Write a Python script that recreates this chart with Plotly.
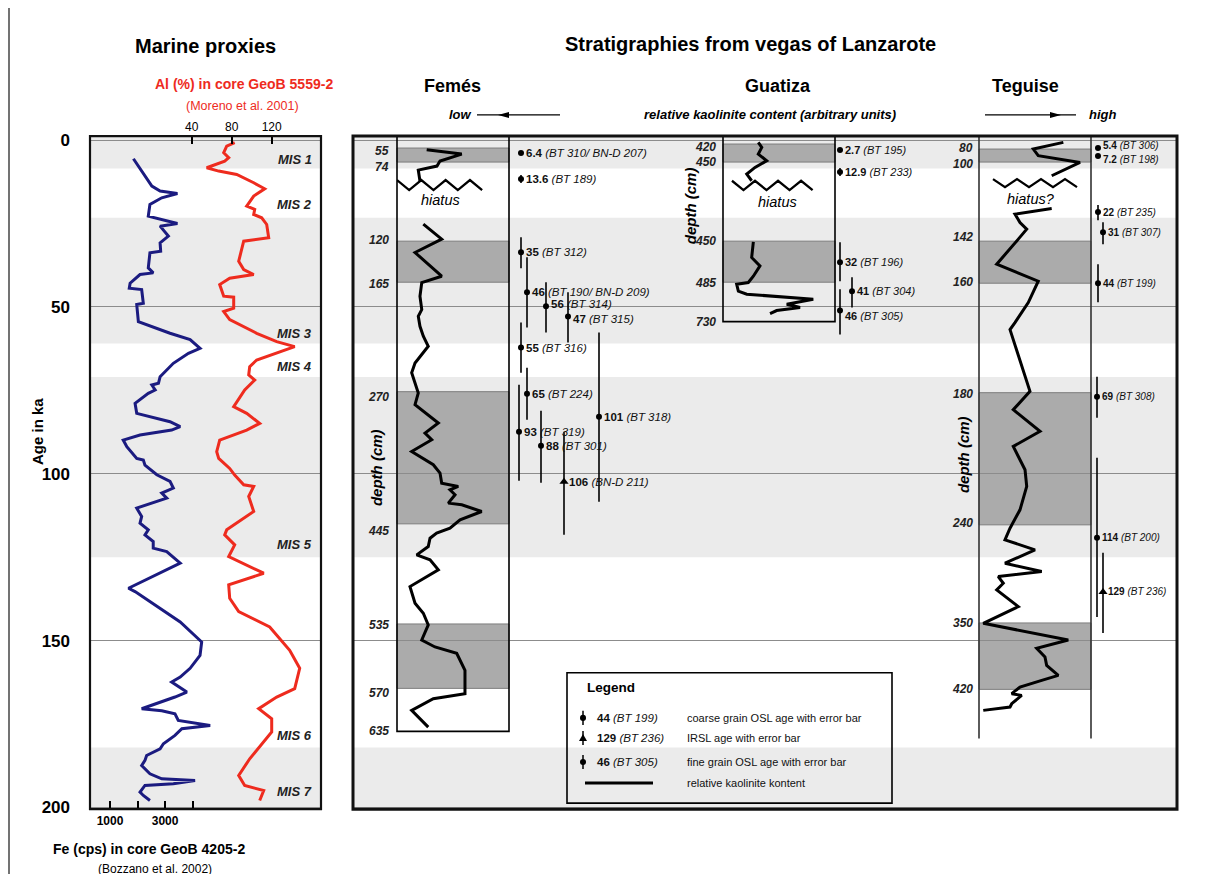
import plotly.graph_objects as go

# The page adds an 8 px body margin; the photographed page is also slightly squeezed
# vertically, so reference pixel positions are mapped through px()/py() below.
W, H = 1202, 874
MARGIN = 8
Y_OFF, Y_SCALE = 6.5, 0.982
FONT = "Liberation Sans, Arial, sans-serif"

# ---------------- data: marine proxies ----------------
fe_age = [5.6, 13.8, 15.3, 16.0, 17.3, 19.3, 22.8, 25.0, 25.8, 28.8, 30.8, 33.3, 33.8, 38.3, 39.8,
          40.3, 42.9, 44.4, 44.8, 48.9, 49.3, 54.4, 57.9, 59.8, 62.4, 63.9, 66.9, 70.9, 72.9, 73.4,
          74.9, 75.9, 78.9, 81.9, 84.4, 85.9, 86.9, 88.4, 89.9, 91.9, 95.4, 95.9, 97.4, 100.3, 102.3,
          104.3, 105.8, 107.3, 110.3, 112.8, 114.8, 116.8, 118.3, 120.3, 122.3, 123.3, 126.8, 127.8,
          134.3, 135.3, 139.8, 144.4, 150.4, 154.4, 158.3, 160.9, 162.4, 165.4, 166.9, 170.4, 171.0,
          171.9, 173.9, 175.4, 176.4, 178.4, 180.9, 182.4, 184.4, 185.9, 187.4, 189.9, 191.4, 191.9,
          192.9, 193.4, 195.4, 196.4, 197.9]
fe_cps = [1850, 2520, 2820, 3450, 2880, 2450, 2390, 3450, 2820, 3120, 2820, 2840, 2450, 2390, 2570,
          2090, 1730, 1700, 2150, 2210, 1970, 2030, 3180, 3910, 4270, 3850, 3300, 2820, 2760, 2520,
          2640, 2390, 1910, 1970, 3180, 3550, 3240, 2090, 1480, 1610, 1970, 2210, 2270, 2700, 3180,
          3300, 2880, 3060, 1970, 2150, 2090, 2390, 2270, 2570, 2570, 3060, 3550, 3300,
          1670, 1910, 2700, 3550, 4330, 4270, 3910, 3550, 3240, 3790, 3360, 2150, 2880,
          3360, 3480, 4640, 3610, 3360, 2940, 2820, 2330, 2270, 2150, 2450, 2880, 4090,
          3300, 2270, 2090, 2210, 2450]

al_age = [0.8, 1.8, 3.8, 5.3, 6.3, 8.3, 9.3, 10.3, 12.8, 14.6, 16.8, 19.8, 20.8, 22.3, 23.3, 25.3,
          29.3, 30.3, 36.3, 38.8, 40.3, 41.4, 43.3, 46.8, 47.1, 50.4, 51.4, 53.8, 57.9, 60.4, 61.9,
          63.9, 65.9, 67.9, 70.4, 71.9, 74.9, 79.9, 81.9, 84.9, 86.9, 89.9, 93.4, 95.4, 98.4, 100.4,
          103.3, 103.8, 106.8, 111.3, 116.8, 118.3, 121.3, 124.8, 127.8, 129.8, 133.3, 137.3, 141.3,
          145.9, 152.9, 158.3, 164.4, 166.9, 170.4, 173.4, 177.4, 181.9, 185.4, 190.4, 193.4, 194.9,
          197.9]
al_pct = [83, 75, 72, 77, 73, 55, 67, 85, 102, 113, 102, 95, 103, 102, 110, 115,
          117, 92, 87, 92, 102, 78, 68, 72, 82, 82, 72, 78, 105, 125, 143,
          125, 105, 98, 97, 103, 93, 82, 95, 108, 95, 68, 65, 67, 78, 83,
          92, 102, 97, 102, 75, 73, 83, 77, 98, 112, 77, 78, 87,
          118, 138, 148, 143, 125, 107, 120, 120, 108, 98, 87, 93, 112,
          108]

fe_ticks = [1000, 2000, 3000, 4000]
fe_ticklabels = ["1000", "", "3000", ""]
al_ticks = [40, 80, 120]
age_ticks = [0, 50, 100, 150, 200]

mis_band_start = [0, 23.3, 71, 182]
mis_band_end = [8.5, 61, 125, 200]
mis_names = ["MIS 1", "MIS 2", "MIS 3", "MIS 4", "MIS 5", "MIS 6", "MIS 7"]
mis_name_age = [5.7, 19.3, 57.9, 67.9, 121.3, 178.4, 195.1]

# ---------------- data: Femés ----------------
femes_age = [2.9, 4.2, 6.3, 7.8, 9.0, 12.3, None,
             25.2, 29.7, 33.7, 40.8, 42.7, 46.8, 50.8, 52.8, 55.8, 58.8, 61.8, 66.8, 69.7, 75.8,
             79.3, 84.8, 87.8, 89.8, 93.3, 97.3, 99.8, 102.8, 103.8, 104.8, 106.3, 108.8, 109.3,
             111.3, 113.8, 116.3, 117.8, 119.3, 121.8, 124.3, 125.8, 128.8, 133.8, 138.8, 141.8,
             145.3, 149.8, 151.9, 153.8, 158.9, 165.9, 167.4, 170.9, 175.9]
femes_kaol = [2.65, 5.78, 3.84, 3.57, 1.90, 2.05, None,
              2.35, 3.99, 1.61, 3.99, 2.21, 2.05, 2.21, 1.90, 2.05, 2.35, 2.79, 1.61, 1.31, 1.90,
              1.61, 3.69, 2.50, 3.10, 1.31, 3.24, 3.84, 3.99, 5.47, 4.73, 5.18, 4.58, 5.78,
              7.56, 5.63, 4.73, 3.54, 2.95, 2.79, 1.76, 2.95, 3.69, 1.16, 1.61, 2.35,
              2.79, 2.21, 3.39, 5.33, 6.07, 6.07, 3.24, 1.31, 2.79]
femes_dark_top = [2.4, 30.3, 75.4, 145.0]
femes_dark_bot = [6.6, 42.6, 115.0, 164.3]
femes_depth = ["55", "74", "120", "165", "270", "445", "535", "570", "635"]
femes_depth_age = [3.3, 8.1, 30.0, 43.2, 76.9, 117.1, 145.3, 165.8, 177.2]
femes_base_age = 177.2
femes_date_num = ["6.4", "13.6", "35", "46", "56", "47", "55", "65", "101", "93", "88", "106"]
femes_date_lab = ["BT 310/ BN-D 207", "BT 189", "BT 312", "BT 190/ BN-D 209", "BT 314", "BT 315",
                  "BT 316", "BT 224", "BT 318", "BT 319", "BT 301", "BN-D 211"]
femes_date_age = [3.9, 11.7, 33.6, 45.6, 49.8, 52.9, 62.2, 76.0, 82.9, 87.4, 91.6, 102.4]
femes_date_lo = [3.9, 10.5, 29.1, 35.1, 42.6, 45.6, 54.7, 68.2, 57.7, 73.3, 81.1, 87.4]
femes_date_hi = [3.9, 12.9, 38.4, 56.2, 57.7, 60.7, 69.7, 83.8, 108.4, 102.1, 102.7, 118.3]
femes_date_kind = ["osl"] * 11 + ["irsl"]

# ---------------- data: Guatiza ----------------
guatiza_age = [0.7, 2.2, 4.2, 6.2, 8.2, 10.2, 12.2, None,
               30.5, 35.2, 37.7, 40.8, 42.7, 43.2, 45.3, 46.2, 47.7, 49.2, 50.2, 51.1, 52.0]
guatiza_kaol = [3.15, 3.46, 3.15, 3.90, 2.86, 2.12, 2.56, None,
                2.71, 2.56, 3.30, 2.71, 2.26, 1.22, 1.37, 2.12, 8.06, 5.69, 6.88, 4.79, 4.20]
guatiza_dark_top = [1.2, 30.3]
guatiza_dark_bot = [6.6, 42.6]
guatiza_depth = ["420", "450", "450", "485", "730"]
guatiza_depth_age = [2.1, 6.6, 30.3, 42.9, 54.4]
guatiza_base_age = 54.4
guatiza_date_num = ["2.7", "12.9", "32", "41", "46"]
guatiza_date_lab = ["BT 195", "BT 233", "BT 196", "BT 304", "BT 305"]
guatiza_date_age = [3.0, 9.6, 36.6, 45.3, 51.1]
guatiza_date_lo = [3.0, 8.4, 30.6, 41.1, 44.7]
guatiza_date_hi = [3.0, 10.8, 42.3, 50.2, 58.3]
guatiza_date_kind = ["osl"] * 5

# ---------------- data: Teguise ----------------
teguise_age = [0.7, 2.7, 4.7, 6.7, 10.7, None,
               20.5, 22.2, 24.7, 26.7, 29.7, 37.2, 42.3, 48.7, 54.7, 56.8, 75.3, 80.8, 87.3, 91.8,
               98.8, 103.8, 110.8, 116.3, 119.8, 122.8, 126.8, 129.3, 130.8, 132.8, 134.8, 139.8,
               144.8, 149.8, 152.3, 154.9, 157.4, 160.4, 161.9, 163.9, 165.9, 166.4, 168.9, 169.9,
               170.9]
teguise_kaol = [7.53, 4.85, 5.29, 9.02, 6.49, None,
                6.49, 3.21, 3.66, 4.26, 3.51, 1.58, 5.29, 4.40, 3.21, 2.77, 4.55, 3.06, 5.45, 3.06,
                4.11, 4.26, 3.66, 2.77, 2.32, 5.00, 2.32, 5.60, 1.72, 2.17, 1.58, 3.51,
                0.38, 7.97, 5.15, 5.89, 6.04, 7.08, 5.60, 3.66, 2.92, 3.81, 2.92, 2.77,
                0.38]
teguise_dark_top = [2.7, 30.3, 75.7, 144.7]
teguise_dark_bot = [6.6, 42.9, 115.3, 164.6]
teguise_depth = ["80", "100", "142", "160", "180", "240", "350", "420"]
teguise_depth_age = [2.4, 7.2, 29.1, 42.6, 76.0, 114.7, 144.7, 164.6]
teguise_base_age = 179.3
teguise_date_num = ["5.4", "7.2", "22", "31", "44", "69", "114", "129"]
teguise_date_lab = ["BT 306", "BT 198", "BT 235", "BT 307", "BT 199", "BT 308", "BT 200", "BT 236"]
teguise_date_age = [2.4, 4.8, 21.6, 27.6, 42.9, 76.9, 119.2, 135.4]
teguise_date_lo = [2.4, 4.8, 19.5, 24.6, 37.2, 70.9, 95.2, 123.7]
teguise_date_hi = [2.4, 4.8, 24.0, 31.2, 48.6, 83.2, 142.9, 147.7]
teguise_date_kind = ["osl"] * 7 + ["irsl"]

legend_rows = [("44", "BT 199", "coarse grain OSL age with error bar"),
               ("129", "BT 236", "IRSL age with error bar"),
               ("46", "BT 305", "fine grain OSL age with error bar")]
legend_line_text = "relative kaolinite kontent"


# ---------------- layout helpers (positions only) ----------------
def px(x):
    return (x - MARGIN) / W


def py(y):
    fig_y = (y - Y_OFF) / Y_SCALE - MARGIN
    return 1 - fig_y / H


AGE_RANGE = [200.5, -1.2]
AGE_TOP = -1.2
Y_DOM = [py(808), py(137)]

# stagger positions of the date markers (reference pixel columns) and label nudges (px, down)
femes_date_x = [521, 521, 521, 527, 546, 568, 521, 527, 599, 519, 541, 564]
femes_label_dy = [0, 0, 0, 0, -2, 2, 0, 0, 0, 0, 0, 0]
guatiza_date_x = [840, 840, 840, 852, 840]
guatiza_label_dy = [0, 0, 0, 0, 5]
teguise_date_x = [1098, 1098, 1098, 1103, 1098, 1097, 1097, 1103]
teguise_label_dy = [-3, 3, 0, 0, 0, 0, 0, 0]

LIGHT = "#ebebeb"
DARK = "#ababab"
BLUE = "#1b1b80"
RED = "#ee2b1e"

fig = go.Figure()
ann = []

# marine proxy curves
fig.add_trace(go.Scatter(x=fe_cps, y=fe_age, mode="lines", line=dict(color=BLUE, width=3),
                         xaxis="x", yaxis="y", showlegend=False, hoverinfo="skip"))
fig.add_trace(go.Scatter(x=al_pct, y=al_age, mode="lines", line=dict(color=RED, width=3),
                         xaxis="x2", yaxis="y", showlegend=False, hoverinfo="skip"))

# kaolinite curves
for xs, ys, xa, ya in [(femes_kaol, femes_age, "x4", "y3"),
                       (guatiza_kaol, guatiza_age, "x5", "y4"),
                       (teguise_kaol, teguise_age, "x6", "y5")]:
    fig.add_trace(go.Scatter(x=xs, y=ys, mode="lines", line=dict(color="black", width=3),
                             xaxis=xa, yaxis=ya, showlegend=False, hoverinfo="skip",
                             connectgaps=False))


# hiatus zig-zag symbols
def zigzag(x0, x1, a_top, a_bot, n):
    xs = [x0 + (x1 - x0) * i / n for i in range(n + 1)]
    ys = [a_top if i % 2 == 0 else a_bot for i in range(n + 1)]
    return xs, ys


for (x0, x1, at, ab), xa, ya in [((0.0, 7.6, 12.0, 15.0), "x4", "y3"),
                                 ((0.8, 8.0, 12.2, 15.0), "x5", "y4"),
                                 ((1.25, 8.75, 11.7, 14.1), "x6", "y5")]:
    zx, zy = zigzag(x0, x1, at, ab, 7)
    fig.add_trace(go.Scatter(x=zx, y=zy, mode="lines", line=dict(color="black", width=2.3),
                             xaxis=xa, yaxis=ya, showlegend=False, hoverinfo="skip",
                             cliponaxis=False))


# dating points
def add_dates(xpos, ages, lo, hi, nums, labs, kinds, dy, fs):
    for kind, sym, size in (("osl", "circle", 6), ("irsl", "triangle-up", 8)):
        idx = [i for i, k in enumerate(kinds) if k == kind]
        if not idx:
            continue
        fig.add_trace(go.Scatter(
            x=[xpos[i] for i in idx], y=[ages[i] for i in idx],
            mode="markers",
            marker=dict(symbol=sym, size=size, color="black"),
            error_y=dict(type="data", symmetric=False,
                         array=[hi[i] - ages[i] for i in idx],
                         arrayminus=[ages[i] - lo[i] for i in idx],
                         width=0, thickness=1.6, color="black"),
            xaxis="x3", yaxis="y2", showlegend=False, hoverinfo="skip", cliponaxis=False))
    for i in range(len(ages)):
        ann.append(dict(x=xpos[i] + 4, y=ages[i], xref="x3", yref="y2", xanchor="left",
                        yanchor="middle", yshift=-dy[i], showarrow=False, borderpad=0,
                        text="<b>%s</b> <i>(%s)</i>" % (nums[i], labs[i]),
                        font=dict(family=FONT, size=fs, color="#111")))


add_dates(femes_date_x, femes_date_age, femes_date_lo, femes_date_hi, femes_date_num,
          femes_date_lab, femes_date_kind, femes_label_dy, 11.5)
add_dates(guatiza_date_x, guatiza_date_age, guatiza_date_lo, guatiza_date_hi, guatiza_date_num,
          guatiza_date_lab, guatiza_date_kind, guatiza_label_dy, 11)
add_dates(teguise_date_x, teguise_date_age, teguise_date_lo, teguise_date_hi, teguise_date_num,
          teguise_date_lab, teguise_date_kind, teguise_label_dy, 10)

shapes = []
# MIS bands (light) in both panels
for s, e in zip(mis_band_start, mis_band_end):
    y0 = s if s > 0 else AGE_TOP
    for xr, yr in (("x domain", "y"), ("x3 domain", "y2")):
        shapes.append(dict(type="rect", xref=xr, yref=yr, x0=0, x1=1, y0=y0, y1=e,
                           fillcolor=LIGHT, line=dict(width=0), layer="below"))
# dark bands in the columns
for tops, bots, xr, yr in ((femes_dark_top, femes_dark_bot, "x4 domain", "y3"),
                           (guatiza_dark_top, guatiza_dark_bot, "x5 domain", "y4"),
                           (teguise_dark_top, teguise_dark_bot, "x6 domain", "y5")):
    for t, b in zip(tops, bots):
        shapes.append(dict(type="rect", xref=xr, yref=yr, x0=0, x1=1, y0=t, y1=b,
                           fillcolor=DARK, line=dict(color="#7d7d7d", width=1), layer="below"))
# column frames
shapes.append(dict(type="rect", xref="x4 domain", yref="y3", x0=0, x1=1, y0=AGE_TOP,
                   y1=femes_base_age, line=dict(color="black", width=1.6)))
shapes.append(dict(type="rect", xref="x5 domain", yref="y4", x0=0, x1=1, y0=AGE_TOP,
                   y1=guatiza_base_age, line=dict(color="black", width=1.6)))
for xx in (0, 1):
    shapes.append(dict(type="line", xref="x6 domain", yref="y5", x0=xx, x1=xx, y0=AGE_TOP,
                       y1=teguise_base_age, line=dict(color="#333", width=1.6)))
# panel frames
shapes.append(dict(type="rect", xref="x domain", yref="y domain", x0=0, x1=1, y0=0, y1=1,
                   line=dict(color="#111", width=2.2)))
shapes.append(dict(type="rect", xref="x3 domain", yref="y2 domain", x0=0, x1=1, y0=0, y1=1,
                   line=dict(color="#111", width=3)))
# outer frame (left edge)
shapes.append(dict(type="line", xref="paper", yref="paper", x0=px(9), x1=px(9), y0=py(5), y1=py(874),
                   line=dict(color="#444", width=1.5)))


def ppath(points):
    return "M " + " L ".join("%f,%f" % (px(a), py(b)) for a, b in points) + " Z"


# low / high arrows
shapes.append(dict(type="line", xref="paper", yref="paper", x0=px(477), x1=px(560), y0=py(116), y1=py(116),
                   line=dict(color="black", width=1.2)))
shapes.append(dict(type="path", xref="paper", yref="paper", path=ppath([(498, 116), (509, 113), (509, 119)]),
                   fillcolor="black", line=dict(width=0)))
shapes.append(dict(type="line", xref="paper", yref="paper", x0=px(985), x1=px(1076), y0=py(116), y1=py(116),
                   line=dict(color="black", width=1.2)))
shapes.append(dict(type="path", xref="paper", yref="paper", path=ppath([(1061, 116), (1050, 113), (1050, 119)]),
                   fillcolor="black", line=dict(width=0)))

# legend box and glyphs
shapes.append(dict(type="rect", xref="paper", yref="paper", x0=px(567), x1=px(892), y0=py(672), y1=py(802),
                   line=dict(color="black", width=1.6)))
legend_y = [717, 737, 761]
for k, yy in enumerate(legend_y):
    shapes.append(dict(type="line", xref="paper", yref="paper", x0=px(583), x1=px(583),
                       y0=py(yy - 7), y1=py(yy + 7), line=dict(color="black", width=1.5)))
    if k == 1:
        shapes.append(dict(type="path", xref="paper", yref="paper",
                           path=ppath([(583, yy - 4), (587, yy + 3), (579, yy + 3)]),
                           fillcolor="black", line=dict(width=0)))
    else:
        shapes.append(dict(type="circle", xref="paper", yref="paper", x0=px(580), x1=px(586),
                           y0=py(yy - 3), y1=py(yy + 3), fillcolor="black", line=dict(width=0)))
shapes.append(dict(type="line", xref="paper", yref="paper", x0=px(585), x1=px(653), y0=py(782), y1=py(782),
                   line=dict(color="black", width=3)))


def text(x, y, s, size, color="black", xanchor="center", angle=0, yref="paper", yval=None):
    ann.append(dict(x=px(x), y=py(y) if yval is None else yval, xref="paper", yref=yref, text=s,
                    showarrow=False, xanchor=xanchor, yanchor="middle", textangle=angle,
                    font=dict(family=FONT, size=size, color=color)))


text(205, 47, "<b>Marine proxies</b>", 20)
text(244, 85, "<b>Al (%) in core GeoB 5559-2</b>", 14, RED)
text(242, 107, "(Moreno et al. 2001)", 12.5, RED)
text(149, 848, "<b>Fe (cps) in core GeoB 4205-2</b>", 14)
text(155, 868, "(Bozzano et al. 2002)", 12)
text(38, 432, "<b>Age in ka</b>", 15, angle=-90)
text(750, 45, "<b>Stratigraphies from vegas of Lanzarote</b>", 20)
text(452, 87, "<b>Femés</b>", 18)
text(778, 87, "<b>Guatiza</b>", 18)
text(1025, 87, "<b>Teguise</b>", 18)
text(460, 116, "<b><i>low</i></b>", 13)
text(770, 116, "<b><i>relative kaolinite content (arbitrary units)</i></b>", 13)
text(1102, 116, "<b><i>high</i></b>", 13)
text(440, 201, "<i>hiatus</i>", 14.5)
text(777, 203, "<i>hiatus</i>", 14.5)
text(1031, 200, "<i>hiatus?</i>", 14.5)
text(376, 468, "<b><i>depth (cm)</i></b>", 15, angle=-90)
text(690, 207, "<b><i>depth (cm)</i></b>", 15, angle=-90)
text(963, 455, "<b><i>depth (cm)</i></b>", 15, angle=-90)

for name, a in zip(mis_names, mis_name_age):
    text(314, 0, "<b><i>%s</i></b>" % name, 13, "#222", xanchor="right", yref="y", yval=a)
for labels, ages, xr, yr in ((femes_depth, femes_depth_age, 391, "y3"),
                             (guatiza_depth, guatiza_depth_age, 718, "y4"),
                             (teguise_depth, teguise_depth_age, 975, "y5")):
    for lab, a in zip(labels, ages):
        text(xr, 0, "<b><i>%s</i></b>" % lab, 12, "#222", xanchor="right", yref=yr, yval=a)

text(585, 687, "<b>Legend</b>", 13.5, xanchor="left")
for (num, lab, desc), yy in zip(legend_rows, legend_y):
    text(595, yy, "<b>%s</b> <i>(%s)</i>" % (num, lab), 11.5, "#111", xanchor="left")
    text(685, yy, desc, 11, "#111", xanchor="left")
text(685, 782, legend_line_text, 11, "#111", xanchor="left")

FE_RANGE = [1000 - 20 / 27.5 * 1000, 4000 + (321 - 192.7) / 27.5 * 1000]
AL_RANGE = [40 - (191.7 - 90), 40 + (321 - 191.7)]

hidden_x = dict(visible=False, showgrid=False, zeroline=False, range=[0, 10])
hidden_y = dict(visible=False, showgrid=False, zeroline=False, range=AGE_RANGE, domain=Y_DOM)

fig.update_layout(
    width=W, height=H, margin=dict(l=0, r=0, t=0, b=0),
    paper_bgcolor="white", plot_bgcolor="rgba(0,0,0,0)",
    showlegend=False, font=dict(family=FONT),
    xaxis=dict(domain=[px(90), px(321)], range=FE_RANGE, anchor="y", side="bottom",
               tickvals=fe_ticks, ticktext=["<b>%s</b>" % t if t else "" for t in fe_ticklabels],
               ticks="inside", ticklen=8, tickwidth=1.6, tickcolor="black",
               tickfont=dict(family=FONT, size=12, color="black"),
               showgrid=False, zeroline=False, showline=False, ticklabelstandoff=3),
    xaxis2=dict(overlaying="x", range=AL_RANGE, anchor="y", side="top",
                tickvals=al_ticks, ticktext=[str(t) for t in al_ticks],
                ticks="inside", ticklen=8, tickwidth=1.6, tickcolor="black",
                tickfont=dict(family=FONT, size=12, color="black"),
                showgrid=False, zeroline=False, showline=False, ticklabelstandoff=2),
    yaxis=dict(domain=Y_DOM, range=AGE_RANGE, anchor="x", tickvals=age_ticks,
               ticktext=["<b>%d</b>" % t for t in age_ticks], ticks="",
               tickfont=dict(family=FONT, size=17, color="black"),
               showgrid=True, gridcolor="#8c8c8c", gridwidth=1, zeroline=False, showline=False,
               ticklabelstandoff=19),
    xaxis3=dict(domain=[px(353), px(1177)], range=[353, 1177], anchor="y2", visible=False,
                showgrid=False, zeroline=False),
    yaxis2=dict(domain=Y_DOM, range=AGE_RANGE, anchor="x3", tickvals=age_ticks,
                showticklabels=False, ticks="", showgrid=True, gridcolor="#8c8c8c",
                gridwidth=1, zeroline=False, showline=False),
    xaxis4=dict(domain=[px(397), px(509)], anchor="y3", **hidden_x),
    xaxis5=dict(domain=[px(723), px(835)], anchor="y4", **hidden_x),
    xaxis6=dict(domain=[px(979), px(1091)], anchor="y5", **hidden_x),
    yaxis3=dict(anchor="x4", **hidden_y),
    yaxis4=dict(anchor="x5", **hidden_y),
    yaxis5=dict(anchor="x6", **hidden_y),
    shapes=shapes, annotations=ann,
)

fig.write_html("out.html")
